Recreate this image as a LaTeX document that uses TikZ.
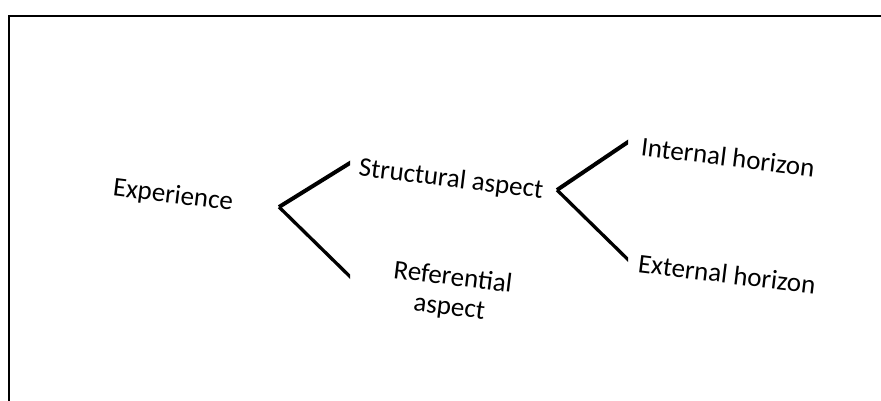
\documentclass[tikz,border=0pt]{standalone}
\usepackage{fontspec}
\setmainfont{Carlito}
\begin{document}
\begin{tikzpicture}[x=1pt,y=-1pt,
  label/.style={inner sep=0pt,font=\fontsize{27}{28}\selectfont,rotate=-7,align=center},
  branch/.style={line width=4pt,line join=miter},
  thinbranch/.style={line width=3.3pt}]
\useasboundingbox (0,0) rectangle (881,400);
% frame (right and bottom sides lie off the page)
\draw[line width=1.4pt] (9,420) -- (9,16) -- (900,16);

% terms
\node[label] (exp)  at (173,196) {Experience};
\node[label] (str)  at (451,180) {Structural aspect};
\node[label,font=\fontsize{27}{30}\selectfont] (ref) at (451,293) {Referential\\aspect};
\node[label] (int)  at (728,157) {Internal horizon};
\node[label] (ext)  at (727,274) {External horizon};

% bracket after "Experience": free ends cut square at x = 350
\coordinate (v1) at (279,207);
\coordinate (v1a) at (354,160.5);
\coordinate (v1b) at (354,280.5);
\begin{scope}
  \clip (200,100) rectangle (350,320);
  \draw[branch] (v1a) -- (v1);
  \draw[thinbranch] (v1) -- (v1b);
\end{scope}

% bracket after "Structural aspect": free ends cut square at x = 628
\coordinate (v2) at (557,190);
\coordinate (v2a) at (632,139.3);
\coordinate (v2b) at (632,263.5);
\begin{scope}
  \clip (500,100) rectangle (628,320);
  \draw[branch] (v2a) -- (v2);
  \draw[thinbranch] (v2) -- (v2b);
\end{scope}
\end{tikzpicture}
\end{document}
